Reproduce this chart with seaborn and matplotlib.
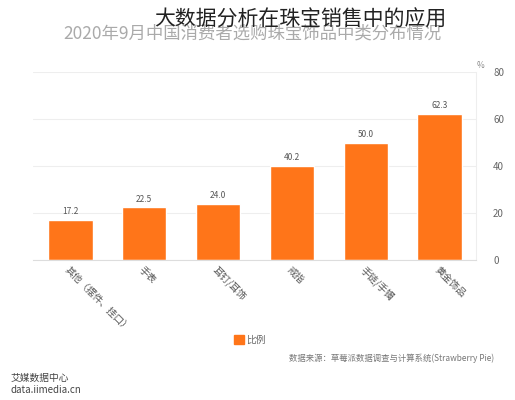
import matplotlib
matplotlib.use("Agg")
import matplotlib.pyplot as plt
import seaborn as sns
import pandas as pd

categories = ["其他（摆件、挂口）", "手表", "耳钉/耳饰", "戒指", "手链/手镯", "黄金饰品"]
values = [17.2, 22.5, 24.0, 40.2, 50.0, 62.3]
yticks = [0, 20, 40, 60, 80]

sns.set_style("white")
plt.rcParams['font.family'] = ['Noto Sans CJK SC', 'DejaVu Sans']

df = pd.DataFrame({"cat": categories, "val": values})
fig = plt.figure(figsize=(5.15, 4.0), dpi=100)
ax = fig.add_axes([0.065, 0.35, 0.86, 0.47])
sns.barplot(data=df, x="cat", y="val", color="#ff7519", width=0.6, ax=ax, saturation=1)
ax.set_ylim(0, 80)
ax.set_yticks(yticks)
ax.yaxis.tick_right()
ax.tick_params(axis='y', length=0, labelsize=7, colors="#666666", pad=12)
ax.tick_params(axis='x', length=0, labelsize=7, colors="#555555")
ax.set_xticks(range(len(categories)))
ax.set_xticklabels(categories, rotation=-45, ha="left", rotation_mode="anchor")
ax.grid(axis='y', color="#eeeeee", lw=0.8)
ax.set_axisbelow(True)
for s in ["top", "left"]:
    ax.spines[s].set_visible(False)
ax.spines["right"].set_color("#eeeeee")
ax.spines["bottom"].set_color("#dddddd")
ax.set_xlabel(""); ax.set_ylabel("")
for i, v in enumerate(values):
    ax.text(i, v + 1.5, f"{v:.1f}", ha="center", va="bottom", fontsize=6, color="#555555")
ax.text(1.0, 1.02, "%", transform=ax.transAxes, fontsize=6, color="#888888", ha="left")

fig.text(0.49, 0.917, "2020年9月中国消费者选购珠宝饰品中类分布情况", ha="center", va="center", fontsize=12.5, color="#aaaaaa")
fig.text(0.30, 0.95, "大数据分析在珠宝销售中的应用", ha="left", va="center", fontsize=15, color="#222222")
fig.patches.append(plt.Rectangle((0.455, 0.14), 0.018, 0.022, color="#ff7519", transform=fig.transFigure))
fig.text(0.478, 0.151, "比例", fontsize=7, color="#666666", va="center")
fig.text(0.96, 0.098, "数据来源：草莓派数据调查与计算系统(Strawberry Pie)", ha="right", fontsize=6, color="#777777")
fig.text(0.02, 0.04, "艾媒数据中心\ndata.iimedia.cn", fontsize=7, color="#444444", va="center")
fig.savefig("out.png", dpi=100, facecolor="white")
